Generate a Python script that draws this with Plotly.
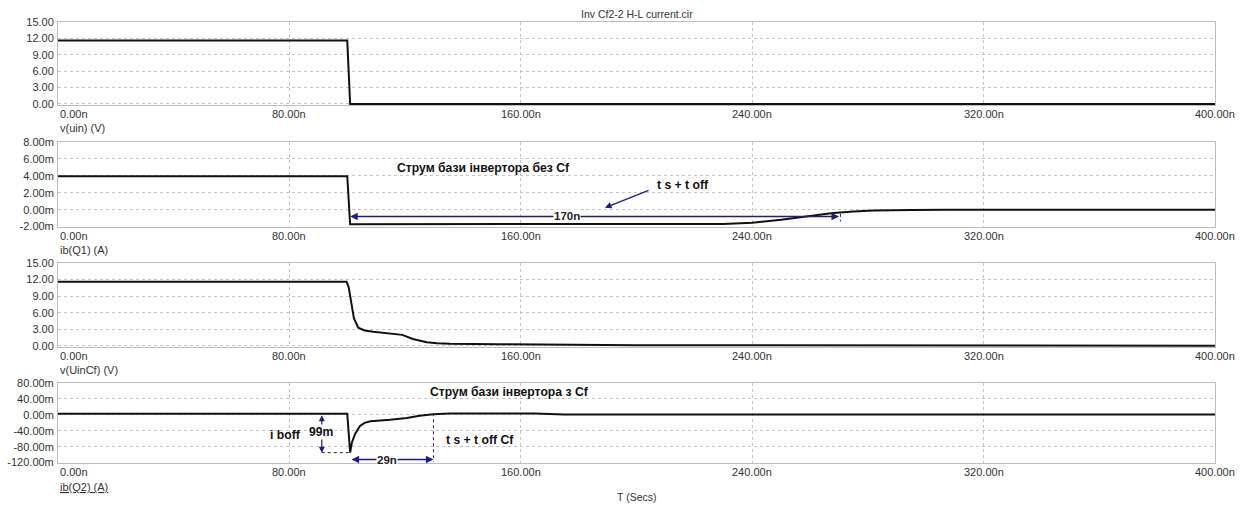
import plotly.graph_objects as go

# ---------------- data ----------------
x_ticks = [0, 80, 160, 240, 320, 400]
x_tick_text = ["0.00n", "80.00n", "160.00n", "240.00n", "320.00n", "400.00n"]

t_uin = [0, 100, 101, 400]
v_uin = [11.6, 11.6, 0.0, 0.0]

t_q1 = [0, 100, 101, 222, 230, 240, 250, 260, 268, 275, 282, 295, 308, 400]
ib_q1 = [3.95, 3.95, -1.72, -1.72, -1.68, -1.55, -1.2, -0.75, -0.4, -0.22, -0.1, -0.03, 0.0, 0.0]

t_uincf = [0, 99.8, 100.5, 101.3, 102.3, 103.8, 106, 109, 114, 119, 122.7, 127.5, 131, 135.5, 151.7, 174.6, 200, 240, 300, 400]
v_uincf = [11.6, 11.6, 10.6, 8.0, 5.0, 3.3, 2.8, 2.55, 2.3, 2.0, 1.25, 0.65, 0.5, 0.4, 0.3, 0.18, 0.14, 0.1, 0.05, 0.03]

t_q2 = [0, 100, 101, 101.6, 102.7, 104.4, 106, 108, 114.8, 120.6, 125, 129.7, 135.5, 165, 175, 400]
ib_q2 = [3, 3, -95, -70, -48, -28, -20, -16, -12.5, -8, -2.5, 1.7, 3.2, 3.2, 1.0, 1.0]

y1_ticks = [0, 3, 6, 9, 12, 15]
y1_text = ["0.00", "3.00", "6.00", "9.00", "12.00", "15.00"]
y2_ticks = [-2, 0, 2, 4, 6, 8]
y2_text = ["-2.00m", "0.00m", "2.00m", "4.00m", "6.00m", "8.00m"]
y3_ticks = [0, 3, 6, 9, 12, 15]
y3_text = ["0.00", "3.00", "6.00", "9.00", "12.00", "15.00"]
y4_ticks = [-120, -80, -40, 0, 40, 80]
y4_text = ["-120.00m", "-80.00m", "-40.00m", "0.00m", "40.00m", "80.00m"]

panel_names = ["v(uin) (V)", "ib(Q1) (A)", "v(UinCf) (V)", "<u>ib(Q2) (A)</u>"]
title_text = "Inv Cf2-2 H-L current.cir"
x_title = "T (Secs)"

# ---------------- figure ----------------
FONT = "Liberation Sans, Arial, sans-serif"
TXT = "#333333"
NAVY = "#1c1c82"
LINE = "#111111"


def sfx(i):
    return "" if i == 1 else str(i)


fig = go.Figure()
series = [(t_uin, v_uin), (t_q1, ib_q1), (t_uincf, v_uincf), (t_q2, ib_q2)]
for i, (tx, vy) in enumerate(series, start=1):
    fig.add_trace(go.Scatter(x=tx, y=vy, mode="lines", xaxis=f"x{sfx(i)}", yaxis=f"y{sfx(i)}",
                             line=dict(color=LINE, width=2), showlegend=False,
                             hoverinfo="skip"))

domains = [[0.8118, 1.0], [0.5351, 0.7279], [0.2630, 0.4535], [0.0, 0.1814]]
yranges = [[-0.2, 15], [-2.05, 8], [-0.2, 15], [-121, 80]]
yticks = [(y1_ticks, y1_text), (y2_ticks, y2_text), (y3_ticks, y3_text), (y4_ticks, y4_text)]

layout = dict(
    width=1244, height=506, autosize=False,
    margin=dict(l=58, r=29, t=22, b=43, pad=0),
    paper_bgcolor="white", plot_bgcolor="white",
    font=dict(family=FONT, size=11, color=TXT),
    showlegend=False,
)
for i in range(1, 5):
    layout[f"xaxis{sfx(i)}"] = dict(
        domain=[0, 1], anchor=f"y{sfx(i)}", range=[0, 400],
        tickvals=x_ticks, showticklabels=False, ticks="",
        showgrid=True, gridcolor="#c4c4c4", griddash="dot", gridwidth=1,
        showline=True, linecolor="#bdbdbd", linewidth=1, mirror=True,
        zeroline=False, fixedrange=True, automargin=False,
    )
    tv, tt = yticks[i - 1]
    layout[f"yaxis{sfx(i)}"] = dict(
        domain=domains[i - 1], anchor=f"x{sfx(i)}", range=yranges[i - 1],
        tickvals=tv, ticktext=tt, ticks="", ticklabelstandoff=1,
        tickfont=dict(family=FONT, size=11, color=TXT),
        showgrid=True, gridcolor="#c4c4c4", griddash="dot", gridwidth=1,
        showline=True, linecolor="#bdbdbd", linewidth=1, mirror=True,
        zeroline=False, fixedrange=True, automargin=False,
    )
fig.update_layout(**layout)

ann = []
# x tick labels under each panel
for i in range(1, 5):
    for v, s in zip(x_ticks, x_tick_text):
        ann.append(dict(x=v, xref=f"x{sfx(i)}", y=0, yref=f"y{sfx(i)} domain", text=s,
                        showarrow=False, xanchor="left" if v == 0 else "center",
                        yanchor="top", yshift=-1,
                        font=dict(family=FONT, size=11, color=TXT)))

# panel names
name_y = [0.7596, 0.4830, 0.2109, -0.0544]
for s, yy in zip(panel_names, name_y):
    ann.append(dict(x=0.0, xref="paper", y=yy, yref="paper", text=s, showarrow=False,
                    xanchor="left", yanchor="middle",
                    font=dict(family=FONT, size=11, color=TXT)))

ann.append(dict(x=0.5004, xref="paper", y=1.018, yref="paper", text=title_text,
                showarrow=False, xanchor="center", yanchor="middle",
                font=dict(family=FONT, size=10.5, color=TXT)))
ann.append(dict(x=0.5, xref="paper", y=-0.077, yref="paper", text=x_title,
                showarrow=False, xanchor="center", yanchor="middle",
                font=dict(family=FONT, size=10.5, color=TXT)))

BOLD = dict(family=FONT, size=12.2, color="#111111")
# panel 2 annotations
ann.append(dict(x=147, xref="x2", y=4.94, yref="y2", text="<b>Струм бази інвертора без Cf</b>",
                showarrow=False, font=BOLD))
ann.append(dict(x=270, xref="x2", y=-0.8, yref="y2", ax=100.5, ay=-0.8, axref="x2", ayref="y2",
                text="", showarrow=True, arrowhead=2, startarrowhead=2, arrowside="end+start",
                arrowsize=1, arrowwidth=1.5, arrowcolor=NAVY))
ann.append(dict(x=176, xref="x2", y=-0.8, yref="y2", text="<b>170n</b>", showarrow=False,
                bgcolor="white", borderpad=0, font=dict(family=FONT, size=11.5, color="#222")))
ann.append(dict(x=189.1, xref="x2", y=0.235, yref="y2", ax=204.7, ay=2.35, axref="x2", ayref="y2",
                text="", showarrow=True, arrowhead=2, arrowsize=1, arrowwidth=1.3, arrowcolor=NAVY))
ann.append(dict(x=206.5, xref="x2", y=2.94, yref="y2", text="<b>t s + t off</b>", showarrow=False,
                xanchor="left", font=BOLD))

# panel 4 annotations
ann.append(dict(x=156, xref="x4", y=58, yref="y4", text="<b>Струм бази інвертора з Cf</b>",
                showarrow=False, font=BOLD))
ann.append(dict(x=91.2, xref="x4", y=-95, yref="y4", ax=91.2, ay=3, axref="x4", ayref="y4",
                text="", showarrow=True, arrowhead=2, startarrowhead=2, arrowside="end+start",
                arrowsize=1, arrowwidth=1.2, arrowcolor=NAVY))
ann.append(dict(x=78.8, xref="x4", y=-50, yref="y4", text="<b>i boff</b>", showarrow=False, font=BOLD))
ann.append(dict(x=91.1, xref="x4", y=-43, yref="y4", text="<b>99m</b>", showarrow=False,
                bgcolor="white", borderpad=0, font=BOLD))
ann.append(dict(x=129.8, xref="x4", y=-112.5, yref="y4", ax=101, ay=-112.5, axref="x4", ayref="y4",
                text="", showarrow=True, arrowhead=2, startarrowhead=2, arrowside="end+start",
                arrowsize=1, arrowwidth=1.5, arrowcolor=NAVY))
ann.append(dict(x=113.6, xref="x4", y=-112.5, yref="y4", text="<b>29n</b>", showarrow=False,
                bgcolor="white", borderpad=0, font=dict(family=FONT, size=11.5, color="#222")))
ann.append(dict(x=146, xref="x4", y=-62.5, yref="y4", text="<b>t s + t off Cf</b>",
                showarrow=False, font=BOLD))

fig.update_layout(annotations=ann)

shapes = [
    dict(type="line", xref="x4", yref="y4", x0=91.2, x1=101, y0=-95, y1=-95,
         line=dict(color="#222", width=1, dash="dot")),
    dict(type="line", xref="x4", yref="y4", x0=129.8, x1=129.8, y0=4, y1=-118,
         line=dict(color=NAVY, width=1, dash="dot")),
    dict(type="line", xref="x2", yref="y2", x0=270.5, x1=270.5, y0=-0.5, y1=-1.4,
         line=dict(color=NAVY, width=1, dash="dot")),
]
fig.update_layout(shapes=shapes)

fig.write_html("out.html", config={"displayModeBar": False},
               post_script="document.body.style.margin='0';document.body.style.overflow='hidden';")
